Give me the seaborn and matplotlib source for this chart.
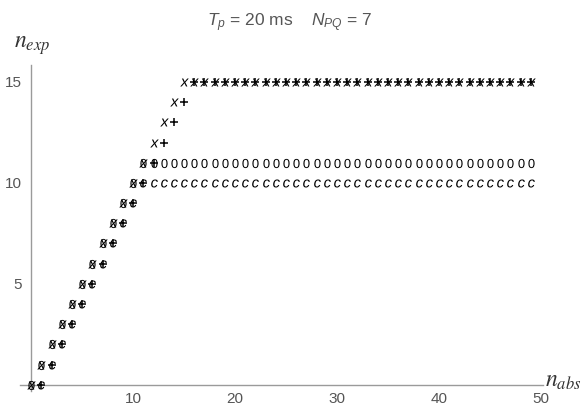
import matplotlib
matplotlib.use("Agg")
import matplotlib.pyplot as plt
import seaborn as sns
import pandas as pd
from matplotlib.ticker import MultipleLocator

# ---- data ----
n_x = list(range(0, 50))
y_x = [0, 1, 2, 3, 4, 5, 6, 7, 8, 9, 10, 11, 12, 13, 14, 15] + [15] * 34

n_plus = list(range(1, 50))
y_plus = [0, 1, 2, 3, 4, 5, 6, 7, 8, 9, 10, 11, 12, 13, 14] + [15] * 34

n_zero = list(range(0, 50))
y_zero = [0, 1, 2, 3, 4, 5, 6, 7, 8, 9, 10, 11] + [11] * 38

n_c = list(range(1, 50))
y_c = [0, 1, 2, 3, 4, 5, 6, 7, 8, 9, 10] + [10] * 38

x_ticks = [10, 20, 30, 40, 50]
y_ticks = [5, 10, 15]

sns.set_style("white")
plt.rcParams["font.family"] = ["Liberation Sans", "DejaVu Sans"]
plt.rcParams["mathtext.fontset"] = "custom"
plt.rcParams["mathtext.rm"] = "Liberation Sans"
plt.rcParams["mathtext.it"] = "Liberation Sans:italic"
plt.rcParams["mathtext.bf"] = "Liberation Sans:bold"

fig = plt.figure(figsize=(5.87, 4.05), dpi=100)
ax = fig.add_axes([0.034, 0.035, 0.891, 0.805])

text_series = [
    (n_x, y_x, "$x$", 38),
    (n_zero, y_zero, "$0$", 44),
    (n_c, y_c, "$c$", 34),
]
for xs, ys, mk, s in text_series:
    df = pd.DataFrame({"n_abs": xs, "n_exp": ys})
    sns.scatterplot(data=df, x="n_abs", y="n_exp", marker=mk, s=s,
                    color="black", linewidth=0, ax=ax, clip_on=False, zorder=3)

df_plus = pd.DataFrame({"n_abs": n_plus, "n_exp": y_plus})
sns.scatterplot(data=df_plus, x="n_abs", y="n_exp", marker="+", s=30,
                color="black", linewidth=1.1, ax=ax, clip_on=False, zorder=3)

ax.set_xlim(-1.1, 50.2)
ax.set_ylim(-0.3, 15.85)
ax.set_xlabel("")
ax.set_ylabel("")

for side in ["top", "right"]:
    ax.spines[side].set_visible(False)
ax.spines["left"].set_position(("data", 0))
ax.spines["bottom"].set_position(("data", 0))
for side in ["left", "bottom"]:
    ax.spines[side].set_color("#9a9a9a")
    ax.spines[side].set_linewidth(1.0)

ax.set_xticks(x_ticks)
ax.set_yticks(y_ticks)
ax.xaxis.set_minor_locator(MultipleLocator(2))
ax.yaxis.set_minor_locator(MultipleLocator(1))
ax.tick_params(axis="both", which="major", direction="in", length=4, width=0.8,
               color="#9a9a9a", labelsize=11, labelcolor="#555555")
ax.tick_params(axis="both", which="minor", direction="in", length=2.5, width=0.6,
               color="#9a9a9a")
ax.tick_params(axis="x", which="major", pad=5)
ax.tick_params(axis="y", which="major", pad=7)
ax.grid(False)

fig.text(0.494, 0.945, "$T_p$ = 20 ms    $N_{PQ}$ = 7", ha="center", va="center",
         fontsize=12.5, color="#555555")
fig.text(0.024, 0.882, r"$n_{exp}$", ha="left", va="baseline", fontsize=17,
         math_fontfamily="stix", color="#333333")
fig.text(0.928, 0.045, r"$n_{abs}$", ha="left", va="baseline", fontsize=17,
         math_fontfamily="stix", color="#333333")

fig.savefig("out.png", dpi=100)
